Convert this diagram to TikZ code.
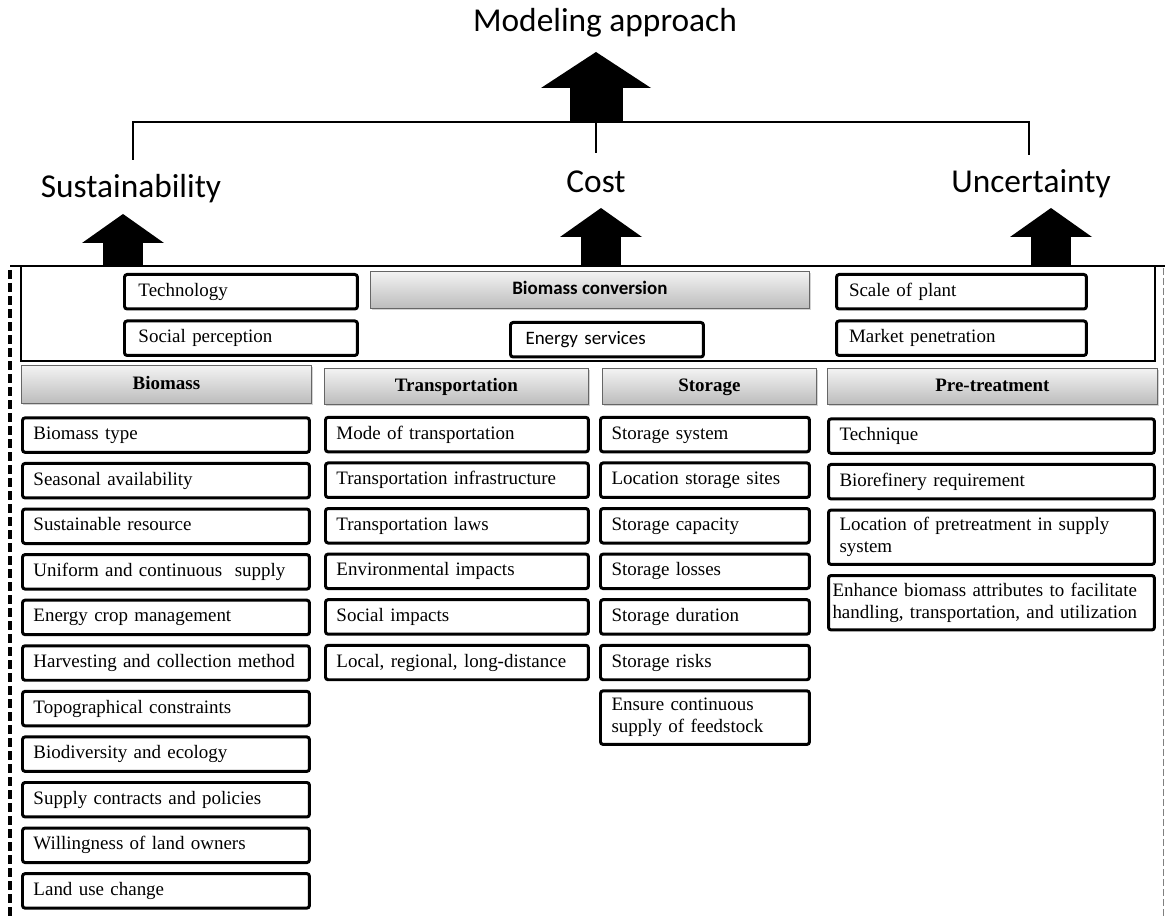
\documentclass[tikz,border=0pt]{standalone}
\usepackage{fontspec}
\setmainfont{Liberation Serif}
\newfontfamily\calibri{Carlito}
\usetikzlibrary{arrows.meta, positioning, shadows}
\definecolor{hdrtop}{RGB}{243,243,243}
\definecolor{hdrbot}{RGB}{188,188,188}

\begin{document}
\begin{tikzpicture}[x=0.02cm, y=-0.02cm, node distance=0.162cm,
  big/.style={font=\calibri\fontsize{19}{22}\selectfont, anchor=base, inner sep=0pt},
  box/.style={draw, line width=1.7pt, rounded corners=1.5pt, align=left, anchor=north west, inner xsep=0.22cm, inner ysep=0.15cm, font=\fontsize{10.8}{12.5}\selectfont},
  item/.style={box, minimum height=0.69cm, text height=7.7pt, text depth=2.5pt},
  bcol/.style={item, text width=5.3cm},
  tcol/.style={item, text width=4.82cm},
  scol/.style={item, text width=3.74cm},
  pcol/.style={item, text width=6.08cm},
  hdr/.style={draw=black!60, line width=0.5pt, top color=hdrtop, bottom color=hdrbot, drop shadow={shadow xshift=0.8pt, shadow yshift=-0.8pt, opacity=0.35}, anchor=north west, inner sep=0pt, minimum height=0.72cm, text height=7.7pt, text depth=2.5pt, font=\fontsize{10.8}{12.5}\selectfont\bfseries},
  bigarr/.style={line width=0.8cm, -{Triangle[length=0.58cm, width=1.64cm, line width=0pt]}},
  bracket/.style={line width=1.6pt},
  frameline/.style={line width=1.6pt}
]
\useasboundingbox (0,0) rectangle (1165,918);

% top labels
\node[big] (model) at (605,32) {Modeling approach};
\node[big] (sust) at (131,198) {Sustainability};
\node[big] (cost) at (596,193) {Cost};
\node[big] (unc) at (1031,193) {Uncertainty};

\coordinate (brTop) at (596,122);
\coordinate (brL) at (133,160);
\coordinate (brM) at (596,153);
\coordinate (brR) at (1029,155);
\coordinate (modelTip) at (596,52);
\coordinate (sustBase) at (123,266);
\coordinate (sustTip) at (123,214);
\coordinate (costBase) at (601,266);
\coordinate (costTip) at (601,208);
\coordinate (uncBase) at (1051,266);
\coordinate (uncTip) at (1051,208);

\draw[bracket] (brL) |- (brTop) -| (brR);
\draw[bracket] (brTop) -- (brM);
\draw[bigarr, line width=1.06cm, -{Triangle[length=0.72cm, width=2.2cm, line width=0pt]}] (brTop) -- (modelTip);
\draw[bigarr] (sustBase) -- (sustTip);
\draw[bigarr] (costBase) -- (costTip);
\draw[bigarr] (uncBase) -- (uncTip);

% frame
\draw[frameline] (10,266) -- (1165,266);
\draw[frameline] (21,266) -- (21,361) -- (1155,361) -- (1155,266);
\draw[line width=1.8pt, dash pattern=on 5pt off 2.4pt] (10,270) -- (10,918);
\draw[gray, line width=0.5pt, dash pattern=on 4pt off 1.7pt] (1163,268) -- (1163,918);

% conversion row
\node[item, text width=4.1cm, inner xsep=0.28cm] (tech) at (123,273) {Technology};
\node[item, text width=4.1cm, inner xsep=0.28cm, below=0.18cm of tech] (social) {Social perception};
\node[hdr, font=\calibri\fontsize{10.8}{12.5}\selectfont\bfseries, minimum width=8.78cm, minimum height=0.74cm] (conv) at (370,271) {Biomass conversion};
\node[item, font=\calibri\fontsize{10.8}{12.5}\selectfont, text width=3.26cm, inner xsep=0.3cm] (energy) at (509,321) {Energy services};
\node[item, text width=4.5cm, inner xsep=0.25cm] (scale) at (835,273) {Scale of plant};
\node[item, text width=4.5cm, inner xsep=0.25cm, below=0.18cm of scale] (market) {Market penetration};

% headers
\node[hdr, minimum width=5.8cm, minimum height=0.76cm] (bioHdr) at (21,365) {Biomass};
\node[hdr, minimum width=5.28cm] (trHdr) at (324,368) {Transportation};
\node[hdr, minimum width=4.28cm] (stHdr) at (602,368) {Storage};
\node[hdr, minimum width=6.6cm] (ptHdr) at (827,368) {Pre-treatment};

% biomass
\node[bcol, below=0.25cm of bioHdr.south west, anchor=north west] (b1) {Biomass type};
\node[bcol, below=of b1] (b2) {Seasonal availability};
\node[bcol, below=of b2] (b3) {Sustainable resource};
\node[bcol, below=of b3] (b4) {Uniform and continuous\ \ supply};
\node[bcol, below=of b4] (b5) {Energy crop management};
\node[bcol, below=of b5] (b6) {Harvesting and collection method};
\node[bcol, below=of b6] (b7) {Topographical constraints};
\node[bcol, below=of b7] (b8) {Biodiversity and ecology};
\node[bcol, below=of b8] (b9) {Supply contracts and policies};
\node[bcol, below=of b9] (b10) {Willingness of land owners};
\node[bcol, below=of b10] (b11) {Land use change};

% transportation
\node[tcol, below=0.22cm of trHdr.south west, anchor=north west] (t1) {Mode of transportation};
\node[tcol, below=of t1] (t2) {Transportation infrastructure};
\node[tcol, below=of t2] (t3) {Transportation laws};
\node[tcol, below=of t3] (t4) {Environmental impacts};
\node[tcol, below=of t4] (t5) {Social impacts};
\node[tcol, below=of t5] (t6) {Local, regional, long-distance};

% storage
\node[scol, below=0.22cm of stHdr.south west, anchor=north west, xshift=-0.06cm] (s1) {Storage system};
\node[scol, below=of s1] (s2) {Location storage sites};
\node[scol, below=of s2] (s3) {Storage capacity};
\node[scol, below=of s3] (s4) {Storage losses};
\node[scol, below=of s4] (s5) {Storage duration};
\node[scol, below=of s5] (s6) {Storage risks};
\node[box, text width=3.74cm, below=of s6] (s7) {Ensure continuous\\supply of feedstock};

% pre-treatment
\node[pcol, below=0.25cm of ptHdr.south west, anchor=north west] (p1) {Technique};
\node[pcol, below=of p1] (p2) {Biorefinery requirement};
\node[box, text width=6.08cm, below=of p2] (p3) {Location of pretreatment in supply\\system};
\node[box, below=of p3, text width=6.36cm, inner xsep=0.08cm] (p4) {Enhance biomass attributes to facilitate\\handling, transportation, and utilization};
\end{tikzpicture}
\end{document}
